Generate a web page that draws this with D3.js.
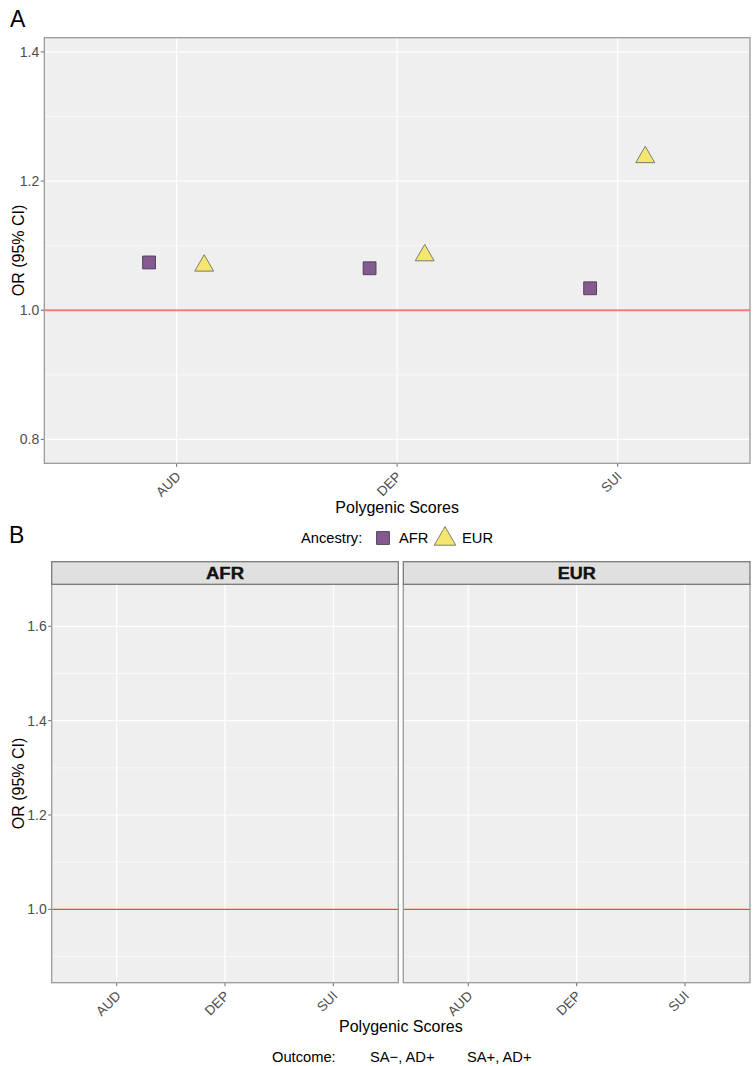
<!DOCTYPE html>
<html><head><meta charset="utf-8">
<script src="https://cdn.jsdelivr.net/npm/d3@7"></script>
<style>
body{margin:0;background:#fff;}
text{font-family:"Liberation Sans",Arial,sans-serif;}
</style></head>
<body><svg id="c" width="753" height="1066"></svg>
<script>
// ---- data ----
const categories = ["AUD","DEP","SUI"];
const ancestries = ["AFR","EUR"];
const afrOR = [1.074, 1.065, 1.034];
const eurOR = [1.069, 1.085, 1.237];
const yTicksA = [0.8, 1.0, 1.2, 1.4];
const yMinorA = [0.9, 1.1, 1.3];
const yTicksB = [1.0, 1.2, 1.4, 1.6];
const yMinorB = [0.9, 1.1, 1.3, 1.5];
const facetsB = ["AFR","EUR"];
const outcomes = ["SA\u2212, AD+","SA+, AD+"];

const svg = d3.select("#c");
const bg = "#efefef", border = "#9a9a9a", tickCol = "#4d4d4d";
const fill = {AFR:"#845a90", EUR:"#f5e76e"};
const stroke = {AFR:"#4b3a52", EUR:"#6e6e6e"};

function panel(g, x0, x1, y0, y1, yScale, ticks, minor, showY, hlineCol, hlineW){
  const xs = d3.scalePoint().domain(categories).range([x0,x1]).padding(0.6);
  g.append("rect").attr("x",x0).attr("y",y0).attr("width",x1-x0).attr("height",y1-y0).attr("fill",bg);
  minor.forEach(v=>g.append("line").attr("x1",x0).attr("x2",x1).attr("y1",yScale(v)).attr("y2",yScale(v)).attr("stroke","#fff").attr("stroke-width",0.6));
  ticks.forEach(v=>g.append("line").attr("x1",x0).attr("x2",x1).attr("y1",yScale(v)).attr("y2",yScale(v)).attr("stroke","#fff").attr("stroke-width",1.2));
  categories.forEach(c=>g.append("line").attr("x1",xs(c)).attr("x2",xs(c)).attr("y1",y0).attr("y2",y1).attr("stroke","#fff").attr("stroke-width",1.2));
  g.append("line").attr("x1",x0).attr("x2",x1).attr("y1",yScale(1)).attr("y2",yScale(1)).attr("stroke",hlineCol).attr("stroke-width",hlineW);
  // x axis
  categories.forEach(c=>{
    g.append("line").attr("x1",xs(c)).attr("x2",xs(c)).attr("y1",y1).attr("y2",y1+3.5).attr("stroke","#444").attr("stroke-width",0.8);
    g.append("text").attr("transform",`translate(${xs(c)+5},${y1+14}) rotate(-45)`)
      .attr("text-anchor","end").attr("font-size",13.5).attr("fill",tickCol).text(c);
  });
  if(showY){
    ticks.forEach(v=>{
      g.append("line").attr("x1",x0-3.5).attr("x2",x0).attr("y1",yScale(v)).attr("y2",yScale(v)).attr("stroke","#444").attr("stroke-width",0.8);
      g.append("text").attr("x",x0-5).attr("y",yScale(v)).attr("dy","0.36em").attr("text-anchor","end")
        .attr("font-size",14).attr("fill",tickCol).text(d3.format(".1f")(v));
    });
  }
  return xs;
}

// ---- Panel A ----
const A = {x0:44.3, x1:750, y0:37.7, y1:463.3};
const yA = d3.scaleLinear().domain([0.763,1.422]).range([A.y1,A.y0]);
const gA = svg.append("g");
const xA = panel(gA, A.x0, A.x1, A.y0, A.y1, yA, yTicksA, yMinorA, true, "#f47c7c", 2);
const dodge = xA.step()*0.125;
const series = {AFR: afrOR, EUR: eurOR};
const sq = d3.symbol().type(d3.symbolSquare).size(165);
const tri = d3.symbol().type(d3.symbolTriangle).size(155);
ancestries.forEach((a,ai)=>{
  categories.forEach((c,i)=>{
    const cx = xA(c) + (ai===0?-dodge:dodge);
    const cy = yA(series[a][i]);
    gA.append("path").attr("d",(a==="AFR"?sq:tri)()).attr("transform",`translate(${cx},${cy})`)
      .attr("fill",fill[a]).attr("stroke",stroke[a]).attr("stroke-width",0.9);
  });
});
gA.append("rect").attr("x",A.x0).attr("y",A.y0).attr("width",A.x1-A.x0).attr("height",A.y1-A.y0).attr("fill","none").attr("stroke",border).attr("stroke-width",1.3);
svg.append("text").attr("x",10).attr("y",27).attr("font-size",23).attr("font-family","Noto Sans").text("A");
svg.append("text").attr("transform",`translate(24,${(A.y0+A.y1)/2}) rotate(-90)`).attr("text-anchor","middle").attr("font-size",16).text("OR (95% CI)");
svg.append("text").attr("x",(A.x0+A.x1)/2).attr("y",513).attr("text-anchor","middle").attr("font-size",16).text("Polygenic Scores");

// legend ancestry
const lg = svg.append("g");
lg.append("text").attr("x",301).attr("y",543).attr("font-size",14.7).text("Ancestry:");
lg.append("path").attr("d",sq()).attr("transform","translate(383,538)").attr("fill",fill.AFR).attr("stroke",stroke.AFR).attr("stroke-width",0.9);
lg.append("text").attr("x",399).attr("y",543).attr("font-size",14.7).text("AFR");
lg.append("path").attr("d",d3.symbol().type(d3.symbolTriangle).size(200)()).attr("transform","translate(445,539)").attr("fill",fill.EUR).attr("stroke",stroke.EUR).attr("stroke-width",0.9);
lg.append("text").attr("x",462).attr("y",543).attr("font-size",14.7).text("EUR");

// ---- Panel B ----
svg.append("text").attr("x",9).attr("y",543).attr("font-size",23).attr("font-family","Noto Sans").text("B");
const B = {y0:584.3, y1:982.7, s0:561.7};
const panelsB = [{f:"AFR",x0:51.7,x1:398.3},{f:"EUR",x0:403.3,x1:750}];
const yB = d3.scaleLinear().domain([0.8445,1.689]).range([B.y1,B.y0]);
panelsB.forEach((p,i)=>{
  const g = svg.append("g");
  panel(g, p.x0, p.x1, B.y0, B.y1, yB, yTicksB, yMinorB, i===0, "#f04444", 1.3);
  g.append("rect").attr("x",p.x0).attr("y",B.y0).attr("width",p.x1-p.x0).attr("height",B.y1-B.y0).attr("fill","none").attr("stroke",border).attr("stroke-width",1.3);
  g.append("rect").attr("x",p.x0).attr("y",B.s0).attr("width",p.x1-p.x0).attr("height",B.y0-B.s0).attr("fill","#e0e0e0").attr("stroke","#7a7a7a").attr("stroke-width",1.3);
  g.append("text").attr("x",(p.x0+p.x1)/2).attr("y",(B.s0+B.y0)/2).attr("dy","0.36em").attr("text-anchor","middle")
    .attr("font-size",16).attr("font-weight","bold").attr("fill","#111")
    .attr("stroke","#111").attr("stroke-width",0.4)
    .attr("textLength",38).attr("lengthAdjust","spacingAndGlyphs").text(facetsB[i]);
});
svg.append("text").attr("transform",`translate(24,${(B.y0+B.y1)/2}) rotate(-90)`).attr("text-anchor","middle").attr("font-size",16).text("OR (95% CI)");
svg.append("text").attr("x",(51.7+750)/2).attr("y",1032).attr("text-anchor","middle").attr("font-size",16).text("Polygenic Scores");
// outcome legend (no visible keys)
svg.append("text").attr("x",272).attr("y",1062).attr("font-size",14.7).text("Outcome:");
svg.append("text").attr("x",370).attr("y",1062).attr("font-size",14.7).text(outcomes[0]);
svg.append("text").attr("x",467).attr("y",1062).attr("font-size",14.7).text(outcomes[1]);
</script></body></html>
